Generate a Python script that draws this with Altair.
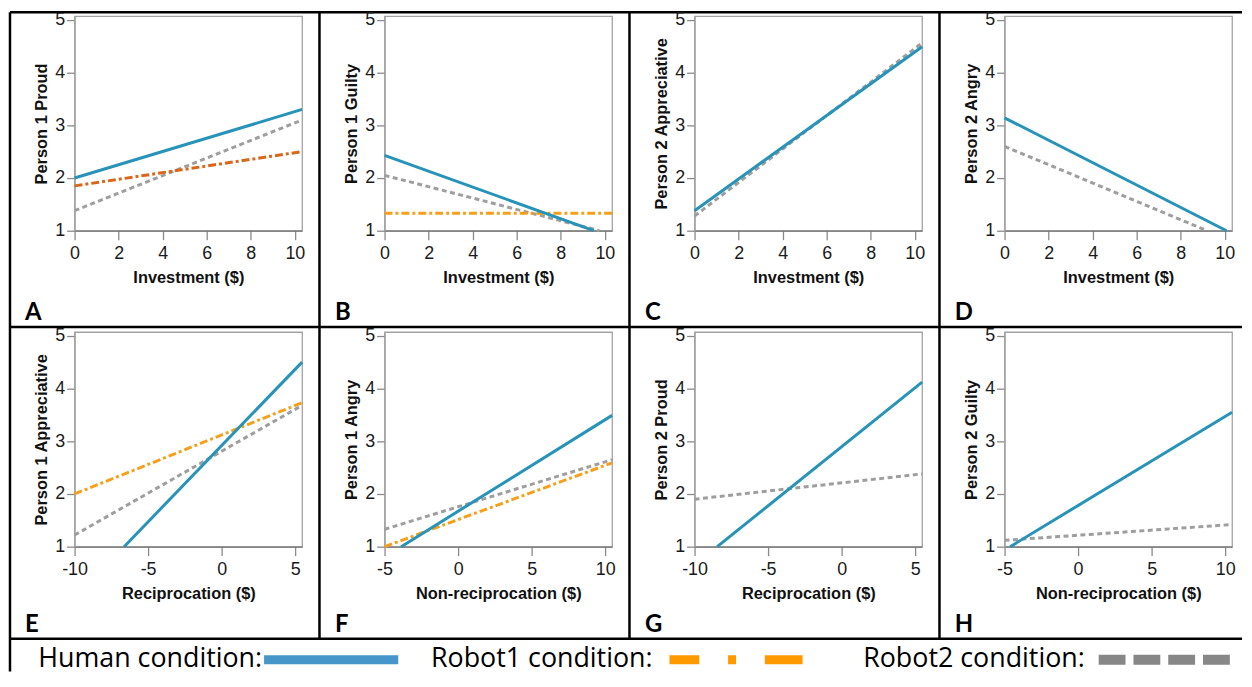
import altair as alt
import pandas as pd

# ---------------- data ----------------
PANEL_LETTERS = ["A", "B", "C", "D", "E", "F", "G", "H"]
Y_TITLES = ["Person 1 Proud", "Person 1 Guilty", "Person 2 Appreciative", "Person 2 Angry",
            "Person 1 Appreciative", "Person 1 Angry", "Person 2 Proud", "Person 2 Guilty"]
X_TITLES = ["Investment ($)", "Investment ($)", "Investment ($)", "Investment ($)",
            "Reciprocation ($)", "Non-reciprocation ($)", "Reciprocation ($)", "Non-reciprocation ($)"]
X_MIN = [0, 0, 0, 0, -10, -5, -10, -5]
X_MAX = [10.33, 10.33, 10.33, 10.33, 5.47, 10.47, 5.47, 10.47]
X_TICKS = [[0, 2, 4, 6, 8, 10]] * 4 + [[-10, -5, 0, 5], [-5, 0, 5, 10], [-10, -5, 0, 5], [-5, 0, 5, 10]]
Y_TICKS = [1, 2, 3, 4, 5]
Y_MIN, Y_MAX = 1, 5.07

# Human condition (start / end of each fitted line)
HUMAN_X0 = [0, 0, 0, 0, -6.63, -3.87, -8.46, -4.62]
HUMAN_Y0 = [2.00, 2.43, 1.38, 3.14, 1.00, 1.00, 1.00, 1.00]
HUMAN_X1 = [10.33, 9.50, 10.33, 10.08, 5.47, 10.47, 5.47, 10.47]
HUMAN_Y1 = [3.30, 1.00, 4.49, 1.00, 4.50, 3.49, 4.12, 3.55]

# Robot1 condition (None = not shown in that panel)
ROBOT1_X0 = [0, 0, None, None, -10, -5, None, None]
ROBOT1_Y0 = [1.85, 1.33, None, None, 2.00, 1.00, None, None]
ROBOT1_X1 = [10.33, 10.33, None, None, 5.47, 10.47, None, None]
ROBOT1_Y1 = [2.50, 1.33, None, None, 3.73, 2.59, None, None]

# Robot2 condition
ROBOT2_X0 = [0, 0, 0, 0, -10, -5, -10, -5]
ROBOT2_Y0 = [1.38, 2.05, 1.28, 2.60, 1.22, 1.33, 1.90, 1.12]
ROBOT2_X1 = [10.33, 9.75, 10.33, 9.20, 5.47, 10.47, 5.47, 10.47]
ROBOT2_Y1 = [3.10, 1.00, 4.56, 1.00, 3.68, 2.65, 2.38, 1.42]

LEGEND_LABELS = ["Human condition:", "Robot1 condition:", "Robot2 condition:"]

# ---------------- styles ----------------
HUMAN_COLOR = "#2793b8"
ROBOT1_COLOR = "#f5a01c"
ROBOT1_COLOR_A = "#d8671a"
ROBOT2_COLOR = "#9e9e9e"
LINE_W = 3
AXIS_FONT = "Liberation Sans"
LABEL_SIZE = 18

W, H = 229, 216
COL_SP, ROW_SP = 83, 102


def seg_layer(x0, y0, x1, y1, xs, ys, xa, ya, **mk):
    df = pd.DataFrame({"x0": [x0], "y0": [y0], "x1": [x1], "y1": [y1]})
    return alt.Chart(df).mark_rule(**mk).encode(
        x=alt.X("x0:Q", scale=xs, axis=xa),
        x2="x1:Q",
        y=alt.Y("y0:Q", scale=ys, axis=ya),
        y2="y1:Q",
    )


DUMMY = pd.DataFrame({"d": [0]})


def hrule(y, xa, xb, color="black", width=2.5, dash=None):
    kw = dict(color=color, strokeWidth=width)
    if dash:
        kw["strokeDash"] = dash
    return alt.Chart(DUMMY).mark_rule(**kw).encode(
        x=alt.value(xa), x2=alt.value(xb), y=alt.value(y))


def vrule(x, ya, yb, color="black", width=2.5):
    return alt.Chart(DUMMY).mark_rule(color=color, strokeWidth=width).encode(
        x=alt.value(x), y=alt.value(ya), y2=alt.value(yb))


def label(txt, x, y, **mk):
    return alt.Chart(DUMMY).mark_text(text=txt, **mk).encode(
        x=alt.value(x), y=alt.value(y))


AXIS_COMMON = dict(
    grid=False, labelFlush=False, labelOverlap=False,
    labelFont=AXIS_FONT, labelFontSize=LABEL_SIZE, labelColor="#1a1a1a",
    titleFont=AXIS_FONT, titleFontSize=16.5, titleFontWeight="bold", titleColor="#111111",
    titleBaseline="alphabetic", tickColor="#8a8a8a", tickWidth=1.3, domainWidth=1.3,
)


def panel(i):
    xs = alt.Scale(domain=[X_MIN[i], X_MAX[i]], nice=False, zero=False)
    ys = alt.Scale(domain=[Y_MIN, Y_MAX], nice=False, zero=False)
    xa = alt.Axis(values=X_TICKS[i], title=X_TITLES[i],
                  tickSize=9, labelPadding=5, labelExpr="'' + datum.value",
                  titleY=52, domainColor="#6e6e6e", **AXIS_COMMON)
    ya = alt.Axis(values=Y_TICKS, title=Y_TITLES[i],
                  tickSize=8, labelPadding=2,
                  titleX=-28.5, titleY=H / 2, titleAngle=270, titleAlign="center",
                  domainColor="#a0a0a0", **AXIS_COMMON)
    layers = [
        seg_layer(ROBOT2_X0[i], ROBOT2_Y0[i], ROBOT2_X1[i], ROBOT2_Y1[i], xs, ys, xa, ya,
                  color=ROBOT2_COLOR, strokeWidth=LINE_W, strokeDash=[5, 3.5]),
    ]
    if ROBOT1_X0[i] is not None:
        layers.append(seg_layer(ROBOT1_X0[i], ROBOT1_Y0[i], ROBOT1_X1[i], ROBOT1_Y1[i],
                                xs, ys, xa, ya,
                                color=ROBOT1_COLOR_A if i == 0 else ROBOT1_COLOR,
                                strokeWidth=LINE_W, strokeDash=[8, 3, 3, 3]))
    layers.append(seg_layer(HUMAN_X0[i], HUMAN_Y0[i], HUMAN_X1[i], HUMAN_Y1[i], xs, ys, xa, ya,
                            color=HUMAN_COLOR, strokeWidth=LINE_W))
    # panel letter
    letter_y = 306 if i < 4 else 301.75
    layers.append(label(PANEL_LETTERS[i], -50, letter_y, font="Lato", fontWeight="bold",
                        fontSize=24, align="left", baseline="alphabetic", color="black"))
    if i == 0:
        # table borders
        for y in (-4, 313, 626.75):
            layers.append(hrule(y, -65, 1175))
        layers.append(vrule(-65, -4, 659.75))
        for x in (246.5, 558.5, 870.5):
            layers.append(vrule(x, -4, 626.75))
        # legend row
        ty, sy = 646.75, 647.75
        lkw = dict(font="Open Sans", fontSize=27, align="right", baseline="middle", color="black")
        layers.append(label(LEGEND_LABELS[0], 188.75, ty, **lkw))
        layers.append(hrule(sy, 190.75, 325.75, color="#4696c9", width=9))
        layers.append(label(LEGEND_LABELS[1], 581.75, ty, **lkw))
        layers.append(hrule(sy, 598.75, 732.75, color="#ff9900", width=9,
                            dash=[30, 29, 8, 29, 38, 200]))
        layers.append(label(LEGEND_LABELS[2], 1016.75, ty, **lkw))
        layers.append(hrule(sy, 1030.75, 1167.75, color="#878787", width=10, dash=[27, 8]))
    return alt.layer(*layers).properties(width=W, height=H)


chart = alt.concat(
    *[panel(i) for i in range(8)],
    columns=4,
    spacing={"row": ROW_SP, "column": COL_SP},
    bounds="flush",
).properties(padding=0).configure_view(
    stroke="#a3a3a3", strokeWidth=1.3
)

chart.save("out.html", embed_options={"renderer": "svg", "actions": False})
